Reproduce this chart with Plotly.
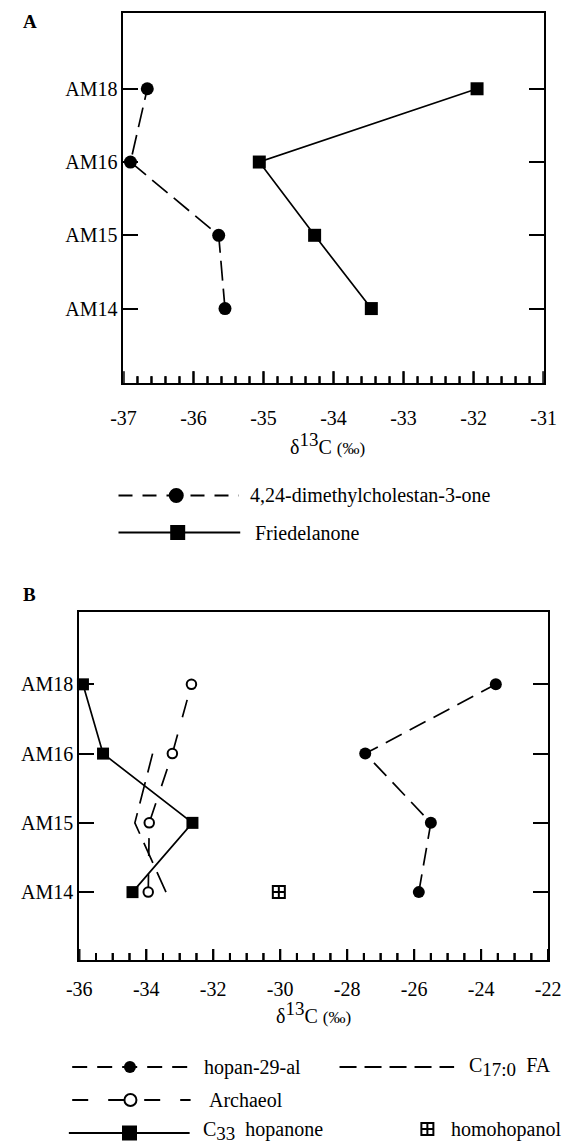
import plotly.graph_objects as go

W, H = 575, 1143
FONT = "Liberation Serif, Times New Roman, serif"

# ---------------- data ----------------
samples = ["AM14", "AM15", "AM16", "AM18"]

# Panel A
dimethylcholestanone = [-35.55, -35.64, -36.90, -36.66]
friedelanone = [-33.46, -34.27, -35.06, -31.95]
xticks_a = [-37, -36, -35, -34, -33, -32, -31]
xticklabels_a = ["-37", "-36", "-35", "-34", "-33", "-32", "-31"]

# Panel B
hopanal = [-25.86, -25.50, -27.46, -23.56]
archaeol = [-33.94, -33.91, -33.22, -32.65]
hopanone = [-34.41, -32.62, -35.29, -35.89]
fa_samples = ["AM14", "AM15", "AM16"]
c17_fa = [-33.41, -34.34, -33.81]
homohopanol_samples = ["AM14"]
homohopanol = [-30.04]
xticks_b = [-36, -34, -32, -30, -28, -26, -24, -22]
xticklabels_b = ["-36", "-34", "-32", "-30", "-28", "-26", "-24", "-22"]

axis_title = ("δ<sup><span style='font-size:19px'>13</span></sup>C "
              "<span style='font-size:17px'>(‰)</span>")


def X(px):
    return px / W


def Y(py):
    return 1 - py / H


A_TOP, A_BOT = 13.3, 383.3
B_TOP, B_BOT = 612.3, 960
dom_xa, dom_ya = [X(115.7), X(555.7)], [Y(A_BOT), Y(A_TOP)]
dom_xb, dom_yb = [X(69.4), X(560.4)], [Y(B_BOT), Y(B_TOP)]
rng_a, rng_b = [-37, -31], [-36, -22]
minor_a = [round(-37 + 0.2 * i, 1) for i in range(31)]
minor_b = [round(-36 + 0.5 * i, 1) for i in range(29)]

fig = go.Figure()

# inward x tick marks drawn as thin line traces on hidden overlay y axes (0..1)
for xa, ya, height, major, minor, mlen, nlen in (
        ("x", "y3", A_BOT - A_TOP, xticks_a, minor_a, 12, 7),
        ("x2", "y4", B_BOT - B_TOP, xticks_b, minor_b, 11, 7)):
    tx, ty = [], []
    for v in minor:
        length = mlen if any(abs(v - m) < 1e-9 for m in major) else nlen
        tx += [v, v, None]
        ty += [0, length / height, None]
    fig.add_trace(go.Scatter(x=tx, y=ty, xaxis=xa, yaxis=ya, mode="lines",
                             line=dict(color="black", width=2),
                             hoverinfo="skip", showlegend=False, cliponaxis=True))


def series(x, y, xa, ya, dash, symbol, size, fill, mode="lines+markers", mlw=0):
    fig.add_trace(go.Scatter(
        x=x, y=y, xaxis=xa, yaxis=ya, mode=mode,
        line=dict(color="black", width=1.7, dash=dash),
        marker=dict(symbol=symbol, size=size, color=fill,
                    line=dict(color="black", width=mlw)),
        cliponaxis=False, showlegend=False, hoverinfo="x+y"))


# Panel A traces
series(dimethylcholestanone, samples, "x", "y", "20px,8px", "circle", 13, "black")
series(friedelanone, samples, "x", "y", "solid", "square", 13, "black")

# Panel B traces
series(c17_fa, fa_samples, "x2", "y2", "22px,10px", "circle", 1, "black", mode="lines")
series(archaeol, samples, "x2", "y2", "18px,18px", "circle", 9.5, "white", mlw=2)
series(hopanal, samples, "x2", "y2", "18px,9px", "circle", 12, "black")
series(hopanone, samples, "x2", "y2", "solid", "square", 12, "black")
series(homohopanol, homohopanol_samples, "x2", "y2", "solid", "square-cross-open", 12,
       "black", mode="markers", mlw=2)

tickfont = dict(family=FONT, size=20, color="black")


def xaxis(dom, rng, tv, tt, anchor, push):
    # transparent outside ticks only push the labels down
    return dict(domain=dom, range=rng, anchor=anchor, tickmode="array",
                tickvals=tv, ticktext=tt, ticks="outside", ticklen=push,
                tickwidth=1, tickcolor="rgba(0,0,0,0)", showline=True, linewidth=2,
                linecolor="black", mirror=True, showgrid=False, zeroline=False,
                tickfont=tickfont)


def yaxis(dom, rng, anchor):
    return dict(domain=dom, range=rng, anchor=anchor, type="category",
                categoryorder="array", categoryarray=samples, ticks="inside",
                ticklen=15, tickwidth=2, tickcolor="black", showline=True,
                linewidth=2, linecolor="black", mirror="ticks", showgrid=False,
                zeroline=False, tickfont=tickfont)


def hidden_y(dom, anchor, over):
    return dict(domain=dom, range=[0, 1], anchor=anchor, overlaying=over,
                visible=False, showgrid=False, zeroline=False, fixedrange=True)


fig.update_layout(
    width=W, height=H, autosize=False,
    margin=dict(l=0, r=0, t=0, b=0, pad=0),
    paper_bgcolor="white", plot_bgcolor="rgba(255,255,255,0)",
    font=dict(family=FONT, size=20, color="black"),
    xaxis=xaxis(dom_xa, rng_a, xticks_a, xticklabels_a, "y", 16),
    yaxis=yaxis(dom_ya, [-1.02, 4.03], "x"),
    xaxis2=xaxis(dom_xb, rng_b, xticks_b, xticklabels_b, "y2", 10),
    yaxis2=yaxis(dom_yb, [-0.98, 4.04], "x2"),
    yaxis3=hidden_y(dom_ya, "x", "y"),
    yaxis4=hidden_y(dom_yb, "x2", "y2"),
)

annotations = []
shapes = []

# the same inward ticks as axis-referenced shapes (redundant safety layer)
for xref, yref, height, major, minor, mlen, nlen in (
        ("x", "y domain", A_BOT - A_TOP, xticks_a, minor_a, 12, 7),
        ("x2", "y2 domain", B_BOT - B_TOP, xticks_b, minor_b, 11, 7)):
    for v in minor:
        length = mlen if any(abs(v - m) < 1e-9 for m in major) else nlen
        shapes.append(dict(type="line", xref=xref, yref=yref, x0=v, x1=v,
                           y0=0, y1=length / height,
                           line=dict(color="black", width=2)))


def text(s, px, py, size=20, anchor="left"):
    annotations.append(dict(text=s, x=X(px), y=Y(py), xref="paper", yref="paper",
                            xanchor=anchor, yanchor="middle", showarrow=False,
                            font=dict(family=FONT, size=size, color="black")))


def hline(x0, x1, py, dash):
    shapes.append(dict(type="line", xref="paper", yref="paper", x0=X(x0), x1=X(x1),
                       y0=Y(py), y1=Y(py), line=dict(color="black", width=2, dash=dash)))


def mark(kind, cx, cy, size, fill, lw=0):
    r = size / 2
    base = dict(xref="paper", yref="paper", xsizemode="pixel", ysizemode="pixel",
                xanchor=X(cx), yanchor=Y(cy))
    shapes.append(dict(base, type=kind, x0=-r, x1=r, y0=-r, y1=r, fillcolor=fill,
                       line=dict(color="black", width=lw)))


# panel labels and axis titles
text("<b>A</b>", 8, 22, size=19)
text("<b>B</b>", 8, 594, size=19)
text(axis_title, 329.5, 443, anchor="center")
text(axis_title, 315, 1012, anchor="center")

# legend A
hline(110.5, 236.5, 495.5, "14px,10px")
mark("circle", 171, 495.5, 15, "black")
text("4,24-dimethylcholestan-3-one", 246, 495.5)
hline(110.5, 238, 532.5, "solid")
mark("rect", 172.5, 532.5, 15, "black")
text("Friedelanone", 251, 532.5)

# legend B
hline(62, 185, 1067, "15px,10px")
mark("circle", 122.5, 1067, 12, "black")
text("hopan-29-al", 198, 1067)
hline(62, 186, 1100, "16px,20px")
mark("circle", 123, 1100, 12, "white", 2)
text("Archaeol", 203, 1100)
hline(58.5, 185, 1133, "solid")
mark("rect", 122, 1133, 15, "black")
text("C<sub><span style='font-size:19px'>33</span></sub>  hopanone", 197, 1131)
hline(342, 462, 1067, "17px,8px")
text("C<sub><span style='font-size:19px'>17:0</span></sub>  FA", 476, 1067)
mark("rect", 434, 1129, 12, "white", 2)
for d in ("v", "h"):
    shapes.append(dict(type="line", xref="paper", yref="paper", xsizemode="pixel",
                       ysizemode="pixel", xanchor=X(434), yanchor=Y(1129),
                       x0=0 if d == "v" else -6, x1=0 if d == "v" else 6,
                       y0=-6 if d == "v" else 0, y1=6 if d == "v" else 0,
                       line=dict(color="black", width=2)))
text("homohopanol", 457, 1129)

fig.update_layout(annotations=annotations, shapes=shapes)
fig.write_html(
    "out.html",
    config=dict(displayModeBar=False),
    post_script="document.body.style.margin='0';document.body.style.overflow='hidden';",
)
